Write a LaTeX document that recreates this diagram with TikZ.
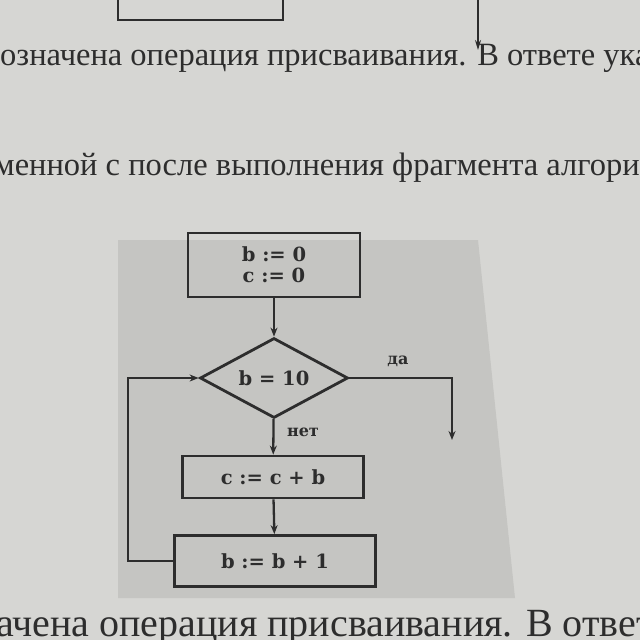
\documentclass[tikz,border=0pt]{standalone}
\usepackage{fontspec}
\setmainfont{Liberation Serif}
\newfontfamily\chartfont{DejaVu Serif}
\usetikzlibrary{shapes.geometric,arrows.meta}
\definecolor{paper}{RGB}{214,214,211}
\definecolor{figbg}{RGB}{197,197,194}
\definecolor{ink}{RGB}{45,45,45}
\tikzset{
  pagetext/.style={anchor=base west,inner sep=0,text=ink,font=\fontsize{32.5}{33}\selectfont},
  blk/.style={draw=ink,line width=2.8pt,rectangle,inner sep=0,text=ink,font=\chartfont\bfseries\fontsize{19.5}{20}\selectfont,align=center},
  dia/.style={draw=ink,line width=2.8pt,diamond,aspect=2,inner sep=0,text=ink,font=\chartfont\bfseries\fontsize{19.5}{20}\selectfont},
  lbl/.style={text=ink,inner sep=0,font=\chartfont\bfseries\fontsize{16}{16}\selectfont},
  flow/.style={draw=ink,line width=2.3pt,-{Stealth[length=9pt,width=7pt]}},
}
\begin{document}
\begin{tikzpicture}[x=1pt,y=-1pt]
\useasboundingbox (0,0) rectangle (640,640);
\clip (0,0) rectangle (640,640);
\fill[paper] (0,0) rectangle (640,640);
\fill[figbg] (118,240) -- (478,240) -- (515,598) -- (118,598) -- cycle;
% top fragment
\coordinate (tl) at (118,-5);
\coordinate (tlb) at (118,20);
\coordinate (trb) at (283,20);
\coordinate (tr) at (283,-5);
\draw[ink,line width=1.6pt] (tl) -- (tlb) -- (trb) -- (tr);
\coordinate (ta) at (478,-5);
\coordinate (tb) at (478,50);
\draw[ink,line width=1.4pt,-{Stealth[length=10pt,width=6pt]}] (ta) -- (tb);
% page text
\node[pagetext] (t1) at (0,65) {означена операция присваивания. В ответе ука};
\node[pagetext] (t2) at (-6,175) {менной с после выполнения фрагмента алгори};
\node[pagetext,font=\fontsize{40}{40}\selectfont] (t3) at (-4,636) {ачена операция присваивания. В ответ};
% flowchart
\node[blk,minimum width=172pt,minimum height=64pt] (b1) at (274,265) {b := 0\\[1pt] c := 0};
\node[dia,minimum width=148pt,minimum height=80pt] (d) at (274,378) {b = 10};
\node[blk,minimum width=181pt,minimum height=42pt] (b2) at (273,477) {c := c + b};
\node[blk,minimum width=201pt,minimum height=51pt] (b3) at (275,561) {b := b + 1};
\coordinate (yesc) at (452,378);
\coordinate (yese) at (452,440);
\coordinate (lp1) at (128,561);
\coordinate (lp2) at (128,378);
\draw[flow] (b1) -- (d);
\draw[flow] (d) -- (b2);
\draw[flow] (b2) -- (b3);
\draw[flow] (b3.west) -- (lp1) -- (lp2) -- (d.west);
\draw[flow] (d.east) -- (yesc) -- (yese);
\node[lbl] (da) at (398,361) {да};
\node[lbl] (net) at (303,432) {нет};
\end{tikzpicture}
\end{document}
